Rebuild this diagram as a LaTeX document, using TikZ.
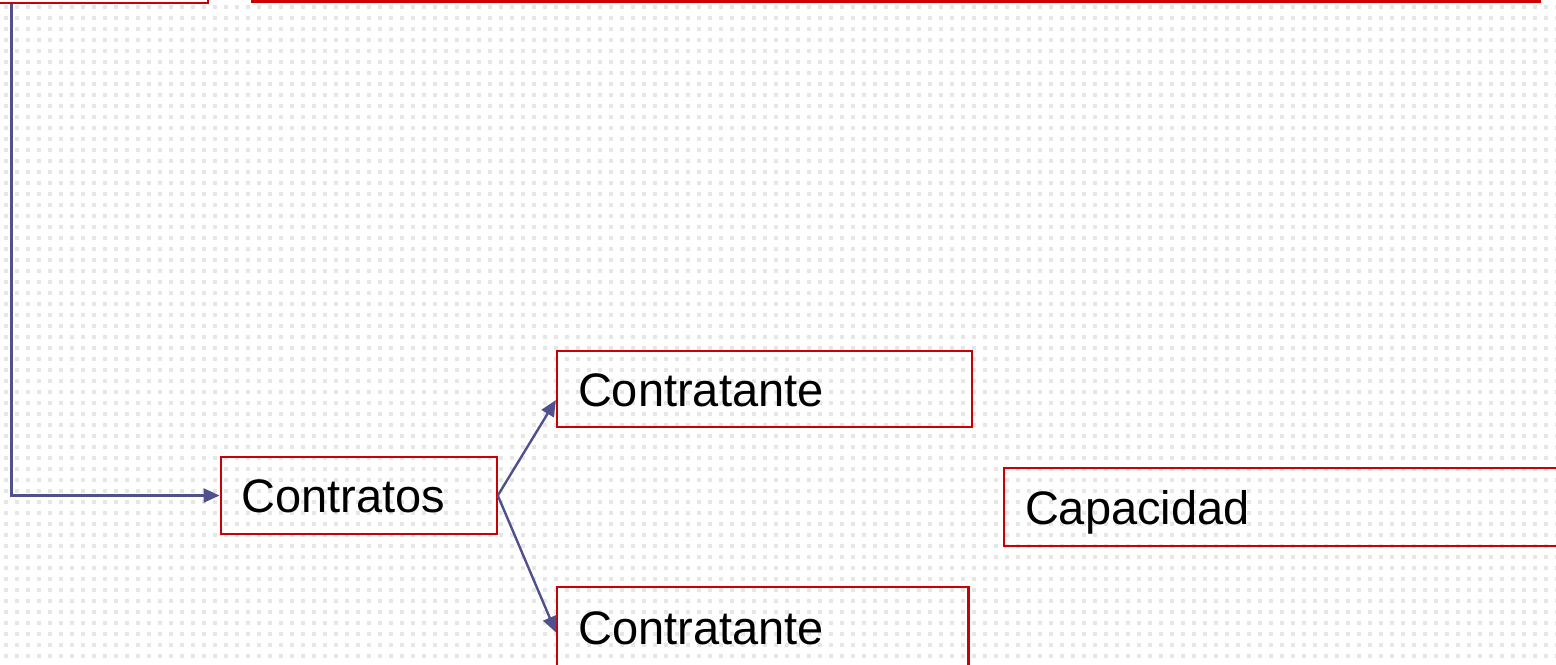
\documentclass[tikz,border=0pt]{standalone}
\usepackage{fontspec}
\setmainfont{Liberation Sans}
\usetikzlibrary{arrows.meta,calc}
\definecolor{boxred}{RGB}{204,0,0}
\definecolor{connblue}{RGB}{80,80,140}
\definecolor{dotgray}{RGB}{230,230,230}
\newcommand{\boxfont}{\fontsize{23.5pt}{28pt}\selectfont}
\tikzset{
  box/.style={draw=boxred, line width=1.1pt, inner xsep=10.5pt, inner ysep=0pt,
    text height=17pt, text depth=0pt, align=left, font=\boxfont, text=black},
  emptybox/.style={draw=boxred, line width=1.1pt, inner sep=0pt},
  conn/.style={draw=connblue, line width=1.2pt, -{Triangle[length=8pt,width=7pt]}}
}
\begin{document}
\begin{tikzpicture}[x=0.5pt,y=-0.5pt]
\useasboundingbox (0,0) rectangle (1556,664);
\fill[white] (0,0) rectangle (1556,664);
\clip (0,0) rectangle (1556,664);
% dotted background texture
\foreach \i in {0,...,141}{
  \foreach \j in {0,...,60}{
    \fill[dotgray] (4+11*\i,5+11*\j) rectangle +(4,4);
  }
}
% top boxes (cut by the top edge)
\node[emptybox, minimum width=114pt, minimum height=31.5pt] (tl) at (94,-28.5) {};
\node[emptybox, minimum width=644pt, minimum height=30.5pt] (tr) at (896,-29) {};
% boxes
\node[box, minimum height=38.8pt, text width=117pt] (contratos) at (358.7,495.5) {Contratos};
\node[box, minimum height=38.3pt, text width=186.3pt] (ct1) at (764.3,389) {Contratante};
\node[box, minimum height=40pt, text width=184.7pt] (ct2) at (762.8,627.3) {Contratante};
\node[box, minimum height=38.7pt, text width=277pt] (cap) at (1302,507) {Capacidad};
% connectors
\coordinate (tlout) at ($(tl.south west)+(32.5,0)$);
\draw[conn] (tlout) |- (contratos.west);
\draw[conn] (contratos.east) -- ([yshift=-5.5pt]ct1.west);
\draw[conn] (contratos.east) -- ([yshift=-2.6pt]ct2.west);
\end{tikzpicture}
\end{document}
